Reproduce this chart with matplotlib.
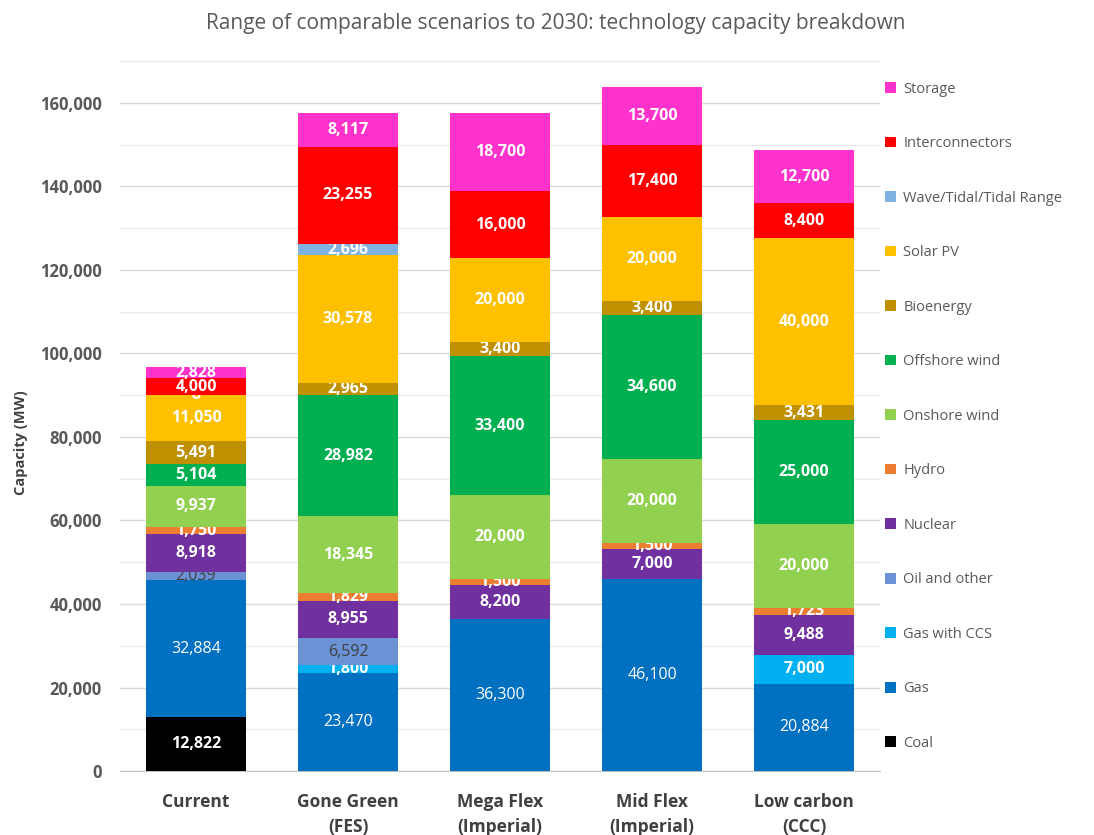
import matplotlib.pyplot as plt
from matplotlib.ticker import FuncFormatter, MultipleLocator
import numpy as np

plt.rcParams['font.family'] = ['Open Sans', 'DejaVu Sans']

scenarios = ['Current', 'Gone Green\n(FES)', 'Mega Flex\n(Imperial)', 'Mid Flex\n(Imperial)', 'Low carbon\n(CCC)']

# stacked bottom -> top
techs = ['Coal', 'Gas', 'Gas with CCS', 'Oil and other', 'Nuclear', 'Hydro',
         'Onshore wind', 'Offshore wind', 'Bioenergy', 'Solar PV',
         'Wave/Tidal/Tidal Range', 'Interconnectors', 'Storage']
coal = [12822, 0, 0, 0, 0]
gas = [32884, 23470, 36300, 46100, 20884]
gas_ccs = [0, 1800, 0, 0, 7000]
oil = [2039, 6592, 0, 0, 0]
nuclear = [8918, 8955, 8200, 7000, 9488]
hydro = [1750, 1829, 1500, 1500, 1723]
onshore = [9937, 18345, 20000, 20000, 20000]
offshore = [5104, 28982, 33400, 34600, 25000]
bio = [5491, 2965, 3400, 3400, 3431]
solar = [11050, 30578, 20000, 20000, 40000]
wave = [8, 2696, 0, 0, 0]
interconn = [4000, 23255, 16000, 17400, 8400]
storage = [2828, 8117, 18700, 13700, 12700]

series = [coal, gas, gas_ccs, oil, nuclear, hydro, onshore, offshore, bio,
          solar, wave, interconn, storage]
colors = ['#000000', '#0070C0', '#00B0F0', '#6A92D4', '#7030A0', '#ED7D31',
          '#92D050', '#00B050', '#BF9000', '#FFC000', '#7FB2E0', '#FF0000', '#FF33CC']

fig = plt.figure(figsize=(10.94, 8.35), dpi=100)
ax = fig.add_axes([0.1097, 0.0766, 0.6947, 0.8503])

x = np.arange(len(scenarios))
bottom = np.zeros(len(scenarios))
handles = []
for name, vals, c in zip(techs, series, colors):
    vals = np.array(vals, dtype=float)
    bars = ax.bar(x, vals, 0.66, bottom=bottom, color=c, label=name, zorder=3)
    handles.append(bars)
    labs = ['{:,}'.format(int(v)) if v > 0 else '' for v in vals]
    if name == 'Oil and other':
        ax.bar_label(bars, labels=labs, label_type='center', color='#404040', fontsize=11.5)
    elif name == 'Gas':
        ax.bar_label(bars, labels=labs, label_type='center', color='white', fontsize=11.5)
    else:
        ax.bar_label(bars, labels=labs, label_type='center', color='white',
                     fontsize=11.5, fontweight='bold')
    bottom += vals

ax.set_xlim(-0.5, 4.5)
ax.set_ylim(0, 170000)
ax.yaxis.set_major_locator(MultipleLocator(20000))
ax.yaxis.set_minor_locator(MultipleLocator(10000))
ax.yaxis.set_major_formatter(FuncFormatter(lambda v, p: '{:,}'.format(int(v))))
ax.grid(axis='y', which='major', color='#D9D9D9', linewidth=1, zorder=0)
ax.grid(axis='y', which='minor', color='#EBEBEB', linewidth=1, zorder=0)
for s in ['top', 'right', 'left']:
    ax.spines[s].set_visible(False)
ax.spines['bottom'].set_color('#BFBFBF')
ax.tick_params(axis='y', which='both', length=0, labelsize=12, labelcolor='#595959', pad=13)
ax.tick_params(axis='x', length=0, labelsize=12.5, labelcolor='#404040', pad=16)
for t in ax.get_yticklabels():
    t.set_fontweight('bold')
ax.set_xticks(x)
ax.set_xticklabels(scenarios, fontweight='bold', linespacing=1.45)
ax.set_ylabel('Capacity (MW)', fontsize=10.5, color='#404040', fontweight='bold')
ax.yaxis.set_label_coords(-0.121, 0.463)

fig.suptitle('Range of comparable scenarios to 2030: technology capacity breakdown',
             x=0.508, y=0.985, fontsize=15, color='#595959')

fig.legend(handles[::-1], techs[::-1], loc='upper left', bbox_to_anchor=(0.797, 0.918),
           frameon=False, fontsize=10.5, labelspacing=2.71, handlelength=0.75,
           handleheight=0.75, handletextpad=0.5, labelcolor='#595959')

fig.savefig('out.png', dpi=100)
